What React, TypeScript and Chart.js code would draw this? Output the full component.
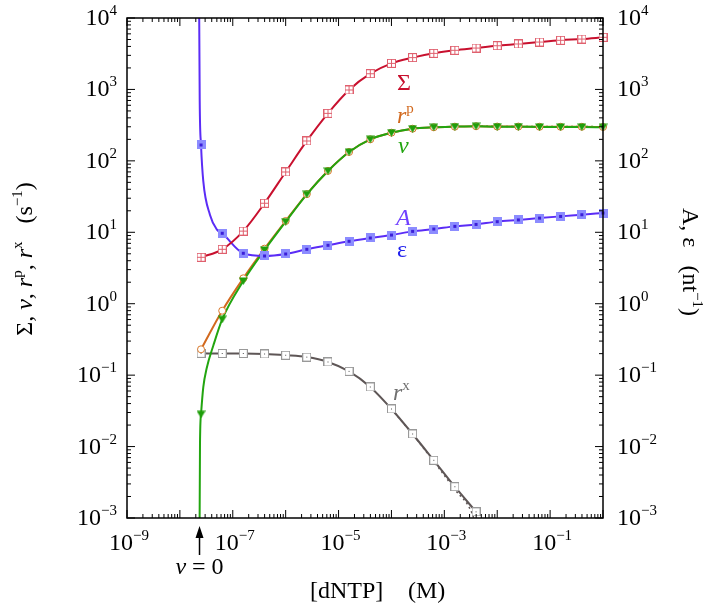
import { useEffect, useRef } from 'react';
import { Chart, registerables } from 'chart.js';

Chart.register(...registerables);

// [dNTP] in M, one marker every 0.4 decade
const dntp = [
  2.51e-8, 6.31e-8, 1.58e-7, 3.98e-7, 1.0e-6, 2.51e-6, 6.31e-6, 1.58e-5, 3.98e-5, 1.0e-4,
  2.51e-4, 6.31e-4, 1.58e-3, 3.98e-3, 1.0e-2, 2.51e-2, 6.31e-2, 0.158, 0.398, 1.0,
];

// rates (s^-1)
const sigma = [4.47, 5.78, 10.4, 25.5, 69.9, 190, 463, 982, 1660, 2320, 2790, 3200, 3530, 3800, 4090, 4330, 4610, 4880, 5080, 5370];
const vRate = [0.0283, 0.605, 2.08, 5.65, 14.1, 34.0, 72.1, 133, 200, 248, 282, 295, 301, 305, 301, 301, 298, 298, 298, 295];
const rP = [0.23, 0.798, 2.27, 5.9, 14.4, 34.2, 72.3, 133, 200, 248, 282, 295, 301, 305, 302, 302, 300, 300, 300, 298];
const rX = [0.202, 0.201, 0.201, 0.198, 0.19, 0.179, 0.153, 0.113, 0.0683, 0.0336, 0.015, 0.00643, 0.00274, 0.00122];
// A, epsilon (nt^-1)
const epsilon = [167, 9.68, 5.08, 4.66, 4.97, 5.78, 6.58, 7.48, 8.32, 9.16, 10.3, 11.1, 12.1, 12.9, 14.1, 14.9, 15.8, 16.7, 17.6, 18.6];

const epsNearX = [2.28e-8, 2.37e-8, 2.77e-8, 3.71e-8, 4.97e-8];
const epsNearY = [1e5, 700, 52, 17.5, 11.0];
const vNearX = [2.33e-8, 2.4e-8, 2.77e-8, 3.21e-8, 4.29e-8];
const vNearY = [1e-4, 0.011, 0.068, 0.125, 0.26];

// dotted curves (second model)
const rXDotX = [1.0e-4, 2.51e-4, 6.31e-4, 1.58e-3, 3.33e-3, 5.0e-3];
const rXDotY = [0.0336, 0.0149, 0.0062, 0.0025, 0.00117, 0.0004];
const vDotX = [3.98e-3, 1.0e-2, 2.51e-2, 6.31e-2, 0.158, 0.398, 1.0];
const vDotY = [306, 304, 303, 302, 302, 302, 301];

const vZero = 2.35e-8;

const xLabelExps = [-9, -7, -5, -3, -1];
const yLabelExps = [-3, -2, -1, 0, 1, 2, 3, 4];

type Run = { t: string; it?: boolean; sup?: boolean };

const SERIF = '"Liberation Serif", "DejaVu Serif", serif';
const BASE = 24;
const SUP = 15;

function font(size: number, it?: boolean) {
  return `${it ? 'italic ' : ''}${size}px ${SERIF}`;
}

function runsWidth(ctx: CanvasRenderingContext2D, runs: Run[]) {
  let w = 0;
  for (const r of runs) {
    ctx.font = font(r.sup ? SUP : BASE, r.it);
    w += ctx.measureText(r.t).width;
  }
  return w;
}

function drawRuns(ctx: CanvasRenderingContext2D, runs: Run[], x: number, y: number) {
  let cx = x;
  for (const r of runs) {
    ctx.font = font(r.sup ? SUP : BASE, r.it);
    ctx.fillText(r.t, cx, r.sup ? y - 10 : y);
    cx += ctx.measureText(r.t).width;
  }
}

function pow10(e: number): Run[] {
  return [{ t: '10' }, { t: e < 0 ? '\u2212' + -e : String(e), sup: true }];
}

const seriesLabels: { x: number; y: number; color: string; runs: Run[] }[] = [
  { x: 1.27e-4, y: 980, color: '#c8102e', runs: [{ t: 'Σ' }] },
  { x: 1.27e-4, y: 339, color: '#d2691e', runs: [{ t: 'r', it: true }, { t: 'p', sup: true }] },
  { x: 1.33e-4, y: 129, color: '#22a510', runs: [{ t: 'v', it: true }] },
  { x: 1.22e-4, y: 12.6, color: '#7040ff', runs: [{ t: 'A', it: true }] },
  { x: 1.27e-4, y: 4.5, color: '#2222ee', runs: [{ t: 'ε' }] },
  { x: 1.07e-4, y: 0.045, color: '#707070', runs: [{ t: 'r', it: true }, { t: 'x', sup: true }] },
];

function pts(xs: number[], ys: number[]) {
  return ys.map((y, i) => ({ x: xs[i], y }));
}

function merged(xa: number[], ya: number[], xb: number[], yb: number[]) {
  return [...pts(xa, ya), ...pts(xb, yb)].sort((p, q) => p.x - q.x);
}

function marker(w: number, h: number, draw: (c: CanvasRenderingContext2D) => void) {
  const cv = document.createElement('canvas');
  cv.width = w;
  cv.height = h;
  draw(cv.getContext('2d')!);
  return cv;
}

const decor = {
  id: 'decor',
  afterDraw(chart: Chart) {
    const { ctx, chartArea: a } = chart;
    const xs = chart.scales.x;
    const ys = chart.scales.y;
    ctx.save();
    ctx.strokeStyle = '#000';
    ctx.lineWidth = 1;
    ctx.beginPath();
    for (let e = -9; e <= 0; e++) {
      for (let k = 1; k <= 9; k++) {
        const v = k * Math.pow(10, e);
        if (v > 1.0001) break;
        const px = xs.getPixelForValue(v);
        const len = k === 1 ? 8 : 4;
        ctx.moveTo(px, a.bottom);
        ctx.lineTo(px, a.bottom - len);
        ctx.moveTo(px, a.top);
        ctx.lineTo(px, a.top + len);
      }
    }
    for (let e = -3; e <= 4; e++) {
      for (let k = 1; k <= 9; k++) {
        const v = k * Math.pow(10, e);
        if (v > 1.0001e4) break;
        const py = ys.getPixelForValue(v);
        const len = k === 1 ? 8 : 4;
        ctx.moveTo(a.left, py);
        ctx.lineTo(a.left + len, py);
        ctx.moveTo(a.right, py);
        ctx.lineTo(a.right - len, py);
      }
    }
    ctx.stroke();
    ctx.lineWidth = 1.5;
    ctx.strokeRect(a.left, a.top, a.right - a.left, a.bottom - a.top);

    ctx.fillStyle = '#000';
    ctx.textAlign = 'left';
    ctx.textBaseline = 'alphabetic';
    for (const e of xLabelExps) {
      const runs = pow10(e);
      const w = runsWidth(ctx, runs);
      drawRuns(ctx, runs, xs.getPixelForValue(Math.pow(10, e)) - w / 2 + 2, a.bottom + 32);
    }
    for (const e of yLabelExps) {
      const runs = pow10(e);
      const w = runsWidth(ctx, runs);
      const py = ys.getPixelForValue(Math.pow(10, e));
      drawRuns(ctx, runs, a.left - 10 - w, py + 7);
      drawRuns(ctx, runs, a.right + 14, py + 7);
    }

    // axis titles
    drawRuns(ctx, [{ t: '[dNTP]' }], 310, 598);
    drawRuns(ctx, [{ t: '(M)' }], 408, 598);

    const left: Run[] = [
      { t: 'Σ, ' }, { t: 'v', it: true }, { t: ', ' }, { t: 'r', it: true }, { t: 'p', sup: true },
      { t: ', ' }, { t: 'r', it: true }, { t: 'x', sup: true }, { t: '   (s' }, { t: '\u22121', sup: true }, { t: ')' },
    ];
    ctx.save();
    ctx.translate(32, 259);
    ctx.rotate(-Math.PI / 2);
    drawRuns(ctx, left, -runsWidth(ctx, left) / 2, 0);
    ctx.restore();

    const right: Run[] = [{ t: 'A, ε   (nt' }, { t: '\u22121', sup: true }, { t: ')' }];
    ctx.save();
    ctx.translate(683, 262);
    ctx.rotate(Math.PI / 2);
    drawRuns(ctx, right, -runsWidth(ctx, right) / 2, 0);
    ctx.restore();

    // v = 0 arrow
    const vx = xs.getPixelForValue(vZero);
    ctx.lineWidth = 1.5;
    ctx.beginPath();
    ctx.moveTo(vx, 555);
    ctx.lineTo(vx, 533);
    ctx.stroke();
    ctx.beginPath();
    ctx.moveTo(vx, 526);
    ctx.lineTo(vx - 4, 538);
    ctx.lineTo(vx + 4, 538);
    ctx.closePath();
    ctx.fill();
    const vr: Run[] = [{ t: 'v', it: true }, { t: ' = 0' }];
    drawRuns(ctx, vr, vx - runsWidth(ctx, vr) / 2, 574);

    // curve labels
    for (const l of seriesLabels) {
      ctx.fillStyle = l.color;
      drawRuns(ctx, l.runs, xs.getPixelForValue(l.x), ys.getPixelForValue(l.y));
    }
    ctx.restore();
  },
};

export default function App() {
  const canvasRef = useRef<HTMLCanvasElement>(null);

  useEffect(() => {
    document.body.style.margin = '0';
    if (!canvasRef.current) return;

    const sigmaMark = marker(9, 9, (c) => {
      c.fillStyle = '#fff';
      c.fillRect(0, 0, 9, 9);
      c.strokeStyle = '#e0606e';
      c.lineWidth = 1;
      c.strokeRect(0.5, 0.5, 8, 8);
      c.beginPath();
      c.moveTo(4.5, 0.5);
      c.lineTo(4.5, 8.5);
      c.moveTo(0.5, 4.5);
      c.lineTo(8.5, 4.5);
      c.stroke();
    });
    const epsMark = marker(9, 9, (c) => {
      c.fillStyle = '#8c8cff';
      c.fillRect(0, 0, 9, 9);
      c.fillStyle = '#3b1fd9';
      c.fillRect(3, 3, 3, 3);
    });
    const rxMark = marker(9, 9, (c) => {
      c.fillStyle = '#fff';
      c.fillRect(0, 0, 9, 9);
      c.strokeStyle = '#999';
      c.lineWidth = 1;
      c.strokeRect(0.5, 0.5, 8, 8);
      c.fillStyle = '#555';
      c.fillRect(4, 4, 1, 1);
    });
    const vMark = marker(9, 8, (c) => {
      c.fillStyle = '#1f9e0a';
      c.beginPath();
      c.moveTo(0, 0.5);
      c.lineTo(9, 0.5);
      c.lineTo(4.5, 8);
      c.closePath();
      c.fill();
    });

    const line = (data: { x: number; y: number }[], color: string, order: number, dash?: number[]) => ({
      data,
      borderColor: color,
      borderWidth: dash ? 1.5 : 2,
      borderDash: dash,
      pointRadius: 0,
      cubicInterpolationMode: 'monotone' as const,
      order,
      clip: 0,
    });
    const marks = (data: { x: number; y: number }[], style: any, order: number) => ({
      data,
      showLine: false,
      pointStyle: style,
      pointRadius: 4.5,
      order,
      clip: false as const,
    });

    const chart = new Chart(canvasRef.current, {
      type: 'line',
      data: {
        datasets: [
          marks(pts(dntp, sigma), sigmaMark, 0),
          marks(pts(dntp, epsilon), epsMark, 0),
          marks(pts(dntp, vRate), vMark, 1),
          {
            data: pts(dntp, rP),
            showLine: false,
            pointStyle: 'circle',
            pointRadius: 3.5,
            borderWidth: 1,
            pointBorderColor: '#d9782a',
            pointBackgroundColor: '#fff',
            order: 2,
            clip: false,
          },
          marks(pts(dntp, rX), rxMark, 2),
          line(pts(dntp, sigma), '#c8102e', 3),
          line(merged(dntp, epsilon, epsNearX, epsNearY), '#5b2cf6', 3),
          line(merged(dntp, vRate, vNearX, vNearY), '#22a510', 3),
          line(pts(dntp, rP), '#d2691e', 4),
          line(pts(dntp, rX), '#5e5656', 4),
          line(pts(vDotX, vDotY), '#22a510', 5, [2, 3]),
          line(pts(rXDotX, rXDotY), '#5e5656', 5, [2, 3]),
        ] as any,
      },
      options: {
        animation: false,
        responsive: false,
        events: [],
        layout: { padding: { left: 127, right: 106, top: 18, bottom: 92 } },
        plugins: { legend: { display: false }, tooltip: { enabled: false } },
        scales: {
          x: { type: 'logarithmic', min: 1e-9, max: 1, display: false },
          y: { type: 'logarithmic', min: 1e-3, max: 1e4, display: false },
        },
      },
      plugins: [decor],
    });

    return () => chart.destroy();
  }, []);

  return <canvas ref={canvasRef} width={709} height={610} style={{ display: 'block' }} />;
}
